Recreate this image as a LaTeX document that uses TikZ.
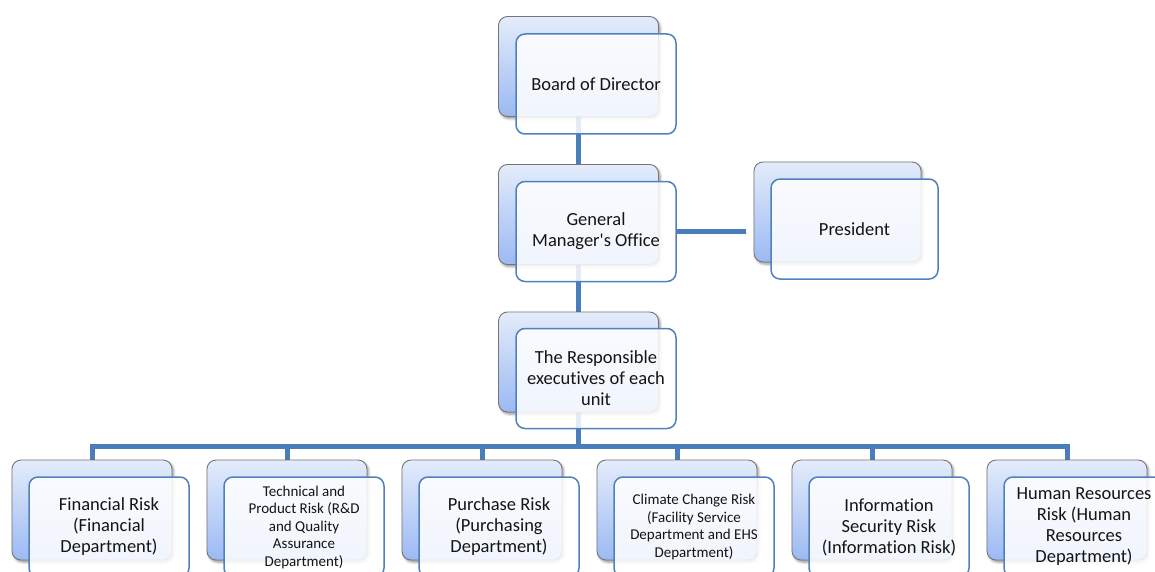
\documentclass[tikz,border=0pt]{standalone}
\usepackage{fontspec}
\setmainfont{Carlito}[Ligatures={TeXOff,NoCommon}]
\usetikzlibrary{shadows.blur}
\pgfdeclarelayer{links}
\pgfsetlayers{links,main}
\definecolor{linkblue}{RGB}{74,126,187}
\definecolor{frameblue}{RGB}{79,129,189}
\definecolor{shadetop}{RGB}{228,236,251}
\definecolor{shadebot}{RGB}{155,185,243}
\definecolor{backframe}{RGB}{118,118,118}
\definecolor{inktext}{RGB}{20,20,20}
\tikzset{
  backbox/.style={rectangle, rounded corners=9pt, minimum width=160pt, minimum height=100pt,
    inner sep=0pt, draw=backframe, line width=0.9pt, top color=shadetop, bottom color=shadebot,
    blur shadow={shadow xshift=1.5pt, shadow yshift=-2pt, shadow blur radius=2.5pt, shadow opacity=45}},
  frontbox/.style={rectangle, rounded corners=9pt, minimum width=160pt, minimum height=100pt,
    inner sep=0pt, draw=frameblue, line width=1.5pt, fill=white, fill opacity=0.86, text opacity=1,
    draw opacity=1, align=center, text=inktext, font=\fontsize{18.5}{21}\selectfont},
  smalltext/.style={font=\fontsize{15}{17.5}\selectfont},
  link/.style={draw=linkblue, line width=5pt, line join=miter}
}
\begin{document}
\begin{tikzpicture}[x=1pt, y=-1pt]
\useasboundingbox (0,0) rectangle (1155,572);
\clip (0,0) rectangle (1155,572);

% back boxes
\node[backbox] (boardB) at (578.5,66.5) {};
\node[backbox] (gmB) at (578.5,214.5) {};
\node[backbox, minimum width=167pt] (presB) at (837.5,212) {};
\node[backbox] (respB) at (578.5,362) {};
\node[backbox] (finB) at (92,510) {};
\node[backbox] (techB) at (287,510) {};
\node[backbox] (purB) at (482,510) {};
\node[backbox] (climB) at (677,510) {};
\node[backbox] (infoB) at (872,510) {};
\node[backbox] (hrB) at (1067,510) {};

% front boxes with the labels
\node[frontbox] (board) at (596,84) {Board of Director};
\node[frontbox] (gm) at (596,231.5) {General\\Manager's Office};
\node[frontbox, minimum width=167pt] (pres) at (854.5,229) {President};
\node[frontbox] (resp) at (596,378.5) {The Responsible\\executives of each\\unit};
\node[frontbox] (fin) at (109,527) {Financial Risk\\(Financial\\Department)};
\node[frontbox, smalltext] (tech) at (304,527) {Technical and\\Product Risk (R\&D\\and Quality\\Assurance\\Department)};
\node[frontbox] (pur) at (499,527) {Purchase Risk\\(Purchasing\\Department)};
\node[frontbox, smalltext] (clim) at (694,527) {Climate Change Risk\\(Facility Service\\Department and EHS\\Department)};
\node[frontbox] (info) at (889,527) {Information\\Security Risk\\(Information Risk)};
\node[frontbox] (hr) at (1084,527) {Human Resources\\Risk (Human\\Resources\\Department)};

% connectors, kept underneath the boxes
\begin{pgfonlayer}{links}
  \coordinate (bus) at (578.5,446);
  \path[link] (boardB.south) -- (gmB.north);
  \path[link] (gmB.south) -- (respB.north);
  \path[link, blur shadow={shadow xshift=1pt, shadow yshift=-1.5pt, shadow blur radius=1.5pt, shadow opacity=35}]
    (gm.east) -- ([xshift=-8pt]presB.west |- gm.east);
  \path[link] (respB.south) -- (bus);
  \path[link] (finB.north) -- (finB.north |- bus) -- (hrB.north |- bus) -- (hrB.north);
  \path[link] (techB.north) -- (techB.north |- bus);
  \path[link] (purB.north) -- (purB.north |- bus);
  \path[link] (climB.north) -- (climB.north |- bus);
  \path[link] (infoB.north) -- (infoB.north |- bus);
\end{pgfonlayer}
\end{tikzpicture}
\end{document}
